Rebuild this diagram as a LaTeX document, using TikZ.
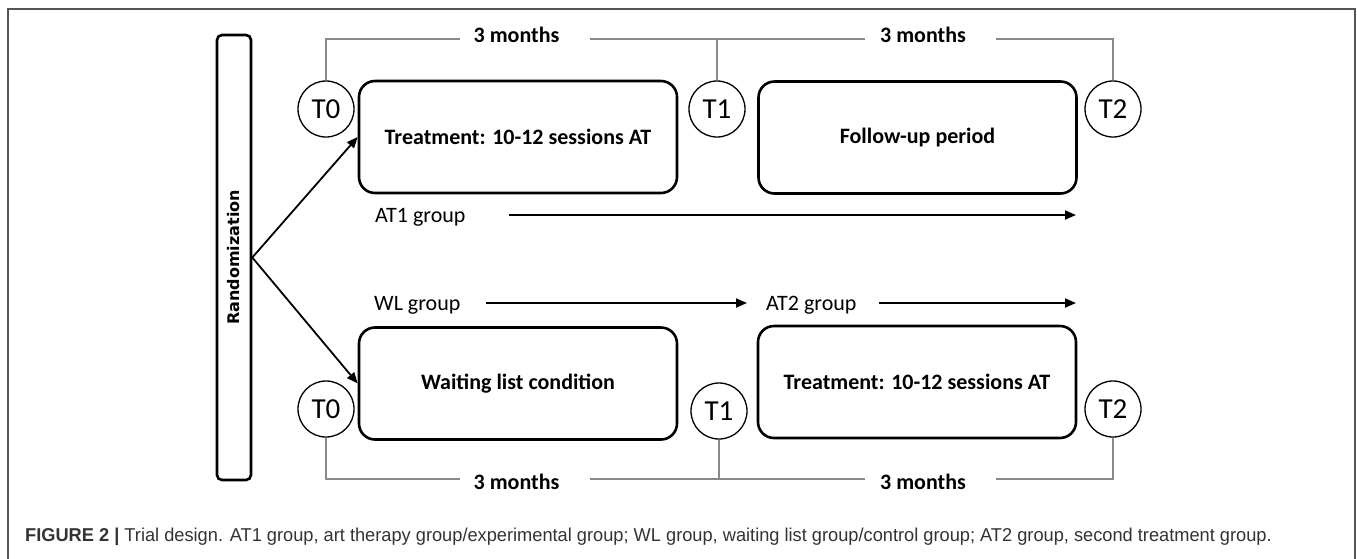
\documentclass[tikz,border=0pt]{standalone}
\usepackage{fontspec}
\setmainfont{Carlito}
\newfontfamily\randfont{DejaVu Sans}
\newfontfamily\capfont[FakeStretch=0.98]{Liberation Sans}
\usetikzlibrary{arrows.meta}
\definecolor{framegray}{HTML}{555555}
\definecolor{brgray}{HTML}{8A8A8A}
\definecolor{capgray}{HTML}{333333}
\begin{document}
\begin{tikzpicture}[x=1pt,y=-1pt,
  phase/.style={draw=black,line width=2.6pt,rounded corners=16pt,minimum width=318pt,minimum height=112pt,font=\fontsize{22}{26}\selectfont\bfseries,inner sep=0pt},
  tp/.style={draw=black,line width=1.3pt,circle,minimum size=56pt,inner sep=0pt,font=\fontsize{29}{32}\selectfont},
  br/.style={draw=brgray,line width=1.1pt},
  brlab/.style={font=\fontsize{22}{26}\selectfont\bfseries,inner sep=0pt},
  grp/.style={font=\fontsize{22}{26}\selectfont,inner sep=0pt,anchor=west},
  arr/.style={draw=black,line width=1.8pt,-{Triangle[length=11pt,width=9pt]}}
]
\useasboundingbox (0,0) rectangle (1357,558);
% frame
\draw[framegray,line width=1.4pt] (8,560) -- (8,9) -- (1355,9) -- (1355,560);
% randomization
\node[draw=black,line width=2.6pt,rounded corners=5pt,minimum width=34pt,minimum height=445pt,inner sep=0pt] (rand) at (234,257.5) {};
\node[rotate=90,font=\randfont\fontsize{16}{18}\selectfont\bfseries] (randtxt) at (234,257.5) {Randomization};
% top row
\node[tp] (t0a) at (326,109) {T0};
\node[tp] (t1a) at (717,109) {T1};
\node[tp] (t2a) at (1113,109) {T2};
\node[phase] (b1) at (518,137) {Treatment: 10-12 sessions AT};
\node[phase] (b2) at (917.5,137.5) {Follow-up period};
% bottom row
\node[tp] (t0b) at (326,409) {T0};
\node[tp] (t1b) at (719,411) {T1};
\node[tp] (t2b) at (1113,409) {T2};
\node[phase] (b3) at (518,383.5) {Waiting list condition};
\node[phase] (b4) at (917,382) {Treatment: 10-12 sessions AT};
% top brackets
\node[brlab] (m1) at (516.5,35) {3 months};
\node[brlab] (m2) at (923,35) {3 months};
\coordinate (g1l) at (460,39);
\coordinate (g1r) at (590,39);
\coordinate (g2l) at (865,39);
\coordinate (g2r) at (996,39);
\draw[br] (t0a.north) |- (g1l);
\draw[br] (g1r) -- (g2l);
\draw[br] (t1a.north) -- (t1a.north |- g1r);
\draw[br] (g2r) -| (t2a.north);
% bottom brackets
\node[brlab] (m3) at (516.5,482) {3 months};
\node[brlab] (m4) at (923,482) {3 months};
\coordinate (h1l) at (460,479);
\coordinate (h1r) at (590,479);
\coordinate (h2l) at (865,479);
\coordinate (h2r) at (996,479);
\draw[br] (t0b.south) |- (h1l);
\draw[br] (h1r) -- (h2l);
\draw[br] (t1b.south) -- (t1b.south |- h1r);
\draw[br] (h2r) -| (t2b.south);
% randomization arrows
\draw[arr] (rand.east) -- (b1.west);
\draw[arr] (rand.east) -- (b3.west);
% group lines
\node[grp] (at1) at (375,217) {AT1 group};
\coordinate (at1s) at (509,215);
\coordinate (at1e) at (1076,215);
\draw[arr] (at1s) -- (at1e);
\node[grp] (wl) at (374,305) {WL group};
\coordinate (wls) at (486,303);
\node[grp] (at2) at (766,305) {AT2 group};
\draw[arr] (wls) -- ([xshift=-19pt]at2.west |- wls);
\coordinate (at2s) at (879,303);
\coordinate (at2e) at (1076,303);
\draw[arr] (at2s) -- (at2e);
% caption
\node[anchor=west,inner sep=0pt,text=capgray,font=\capfont\fontsize{18.6}{22}\selectfont] (cap) at (25,537)
 {\textbf{FIGURE 2 |} Trial design. AT1 group, art therapy group/experimental group; WL group, waiting list group/control group; AT2 group, second treatment group.};
\end{tikzpicture}
\end{document}
